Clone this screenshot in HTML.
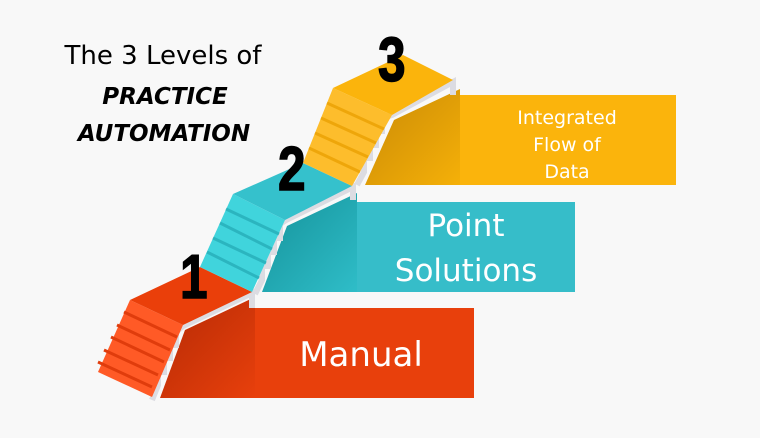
<!DOCTYPE html>
<html><head><style>
html,body{margin:0;padding:0;background:#f8f8f8;}
svg{display:block}
</style></head><body>
<svg width="760" height="438" viewBox="0 0 760 438" xmlns="http://www.w3.org/2000/svg">
<defs>
<linearGradient id="go" x1="0" y1="0" x2="1" y2="1"><stop offset="0" stop-color="#b52a05"/><stop offset="1" stop-color="#e8400c"/></linearGradient>
<linearGradient id="gt" x1="0" y1="0" x2="1" y2="1"><stop offset="0" stop-color="#15929a"/><stop offset="1" stop-color="#2fbdc8"/></linearGradient>
<linearGradient id="gy" x1="0" y1="0" x2="1" y2="1"><stop offset="0" stop-color="#c98a06"/><stop offset="1" stop-color="#f5b008"/></linearGradient>
</defs>
<rect width="760" height="438" fill="#f8f8f8"/>

<rect x="255" y="308" width="219" height="90" fill="#e8400c"/>
<rect x="357" y="202" width="218" height="90" fill="#36bdc9"/>
<rect x="460" y="95" width="216" height="90" fill="#fbb40c"/>

<polygon points="185,330 255,297 255,398 160,398" fill="url(#go)"/>
<polygon points="287,226 357,193 357,292 262,292" fill="url(#gt)"/>
<polygon points="394,120 460,89 460,185 365,185" fill="url(#gy)"/>

<polyline points="152,400 158,385 158,372 164,372 164,358 170,358 170,345 176,345 176,332 183,326 252,293 252,308" fill="none" stroke="#dcdce2" stroke-width="6"/>
<polyline points="255,294 262,280 262,266 268,266 268,252 274,252 274,238 280,238 280,224 286,220 353,187 353,200" fill="none" stroke="#dcdce2" stroke-width="6"/>
<polyline points="357,185 364,172 364,158 370,158 370,145 376,145 376,131 382,131 382,118 392,115 453,82 453,95" fill="none" stroke="#dcdce2" stroke-width="6"/>

<polygon points="130,300 183,325 152,397 98,372" fill="#ff5a26"/>
<g stroke="#e03c0c" stroke-width="3">
<line x1="124" y1="312" x2="177" y2="337"/><line x1="117" y1="325" x2="170" y2="350"/><line x1="111" y1="337" x2="164" y2="362"/><line x1="104" y1="350" x2="158" y2="375"/><line x1="98" y1="362" x2="152" y2="387"/>
</g>
<polygon points="130,300 200,267 252,292 183,325" fill="#ea3f0a"/>

<polygon points="233,194 285,220 252,292 200,267" fill="#40d4dc"/>
<g stroke="#2bb5bf" stroke-width="3">
<line x1="226" y1="209" x2="279" y2="234"/><line x1="220" y1="223" x2="272" y2="249"/><line x1="213" y1="238" x2="266" y2="263"/><line x1="207" y1="252" x2="259" y2="278"/>
</g>
<polygon points="233,194 303,163 352,186 285,220" fill="#35c1cc"/>

<polygon points="333,88 392,115 352,186 303,163" fill="#fdbd2c"/>
<g stroke="#eea60a" stroke-width="3">
<line x1="327" y1="103" x2="384" y2="129"/><line x1="321" y1="118" x2="376" y2="143"/><line x1="315" y1="133" x2="368" y2="157"/><line x1="309" y1="148" x2="360" y2="172"/>
</g>
<polygon points="333,88 403,55 453,80 392,115" fill="#fbb40c"/>

<g font-family="'Liberation Sans',sans-serif" font-weight="bold" fill="#000" font-size="62" stroke="#000" stroke-width="1.5">
<text x="0" y="0" transform="translate(180,298) scale(0.8,1)">1</text>
<text x="0" y="0" transform="translate(278,190) scale(0.8,1)">2</text>
<text x="0" y="0" transform="translate(378,81) scale(0.8,1)">3</text>
</g>

<text x="163" y="64" text-anchor="middle" font-family="'DejaVu Sans',sans-serif" font-size="26" fill="#000">The 3 Levels of</text>
<text x="165" y="104" text-anchor="middle" font-family="'DejaVu Sans',sans-serif" font-weight="bold" font-style="italic" font-size="23" fill="#000">PRACTICE</text>
<text x="164" y="141" text-anchor="middle" font-family="'DejaVu Sans',sans-serif" font-weight="bold" font-style="italic" font-size="23" fill="#000">AUTOMATION</text>

<g font-family="'DejaVu Sans',sans-serif" fill="#fff" text-anchor="middle">
<text x="361" y="366" font-size="34">Manual</text>
<text x="466" y="236" font-size="31">Point</text>
<text x="466" y="281" font-size="31">Solutions</text>
<text x="567" y="124" font-size="19">Integrated</text>
<text x="567" y="151" font-size="19">Flow of</text>
<text x="567" y="178" font-size="19">Data</text>
</g>
</svg>
</body></html>
